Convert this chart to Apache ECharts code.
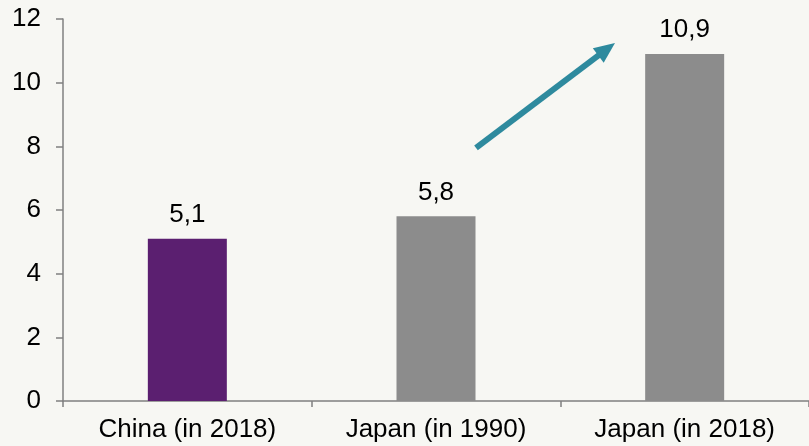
<!DOCTYPE html>
<html>
<head>
<meta charset="utf-8">
<script src="https://cdn.jsdelivr.net/npm/echarts@6/dist/echarts.min.js"></script>
<style>
  html, body { margin: 0; padding: 0; background: #f7f7f3; }
  #chart { width: 809px; height: 446px; }
</style>
</head>
<body>
<div id="chart"></div>
<script>
// Categories and values
const categories = ['China (in 2018)', 'Japan (in 1990)', 'Japan (in 2018)'];
const values = [5.1, 5.8, 10.9];
const barColors = ['#5b1f70', '#8c8c8c', '#8c8c8c'];
const yTicks = { min: 0, max: 12, interval: 2 };

const FONT = 'Arial, "Liberation Sans", sans-serif';
const chart = echarts.init(document.getElementById('chart'));

chart.setOption({
  backgroundColor: '#f7f7f3',
  animation: false,
  grid: { left: 63, right: -5, top: 19, bottom: 45, containLabel: false },
  xAxis: {
    type: 'category',
    data: categories,
    axisLine: { lineStyle: { color: '#808080', width: 1.5 } },
    axisTick: { show: true, length: 6, lineStyle: { color: '#808080', width: 1.5 } },
    axisLabel: { color: '#000', fontSize: 26, fontFamily: FONT, margin: 16 }
  },
  yAxis: {
    type: 'value',
    min: yTicks.min, max: yTicks.max, interval: yTicks.interval,
    axisLine: { show: true, lineStyle: { color: '#808080', width: 1.5 } },
    axisTick: { show: true, length: 7, lineStyle: { color: '#808080', width: 1.5 } },
    splitLine: { show: false },
    axisLabel: { color: '#000', fontSize: 26, fontFamily: FONT, margin: 22 }
  },
  series: [{
    type: 'bar',
    barWidth: 79,
    data: values.map((v, i) => ({ value: v, itemStyle: { color: barColors[i] } })),
    label: {
      show: true,
      position: 'top',
      distance: 11,
      color: '#000',
      fontSize: 26,
      fontFamily: FONT,
      formatter: p => String(p.value).replace('.', ',')
    }
  }]
});

// Growth arrow between the two Japan bars, placed in axis coordinates
const p0 = chart.convertToPixel({ xAxisIndex: 0, yAxisIndex: 0 }, [1, 7.95]);
const p1 = chart.convertToPixel({ xAxisIndex: 0, yAxisIndex: 0 }, [1, 11.25]);
const xStart = p0[0] + 40, xEnd = p0[0] + 179;
const ax = xStart, ay = p0[1], bx = xEnd, by = p1[1];
const ang = Math.atan2(by - ay, bx - ax);
const headLen = 21, headHalf = 9;
const baseX = bx - headLen * Math.cos(ang), baseY = by - headLen * Math.sin(ang);
const nx = -Math.sin(ang), ny = Math.cos(ang);
const arrowColor = '#2e8a9e';

chart.setOption({
  graphic: [
    {
      type: 'line',
      shape: { x1: ax, y1: ay, x2: baseX + 2 * Math.cos(ang), y2: baseY + 2 * Math.sin(ang) },
      style: { stroke: arrowColor, lineWidth: 6 }
    },
    {
      type: 'polygon',
      shape: { points: [[bx, by], [baseX + nx * headHalf, baseY + ny * headHalf], [baseX - nx * headHalf, baseY - ny * headHalf]] },
      style: { fill: arrowColor }
    }
  ]
});
</script>
</body>
</html>
